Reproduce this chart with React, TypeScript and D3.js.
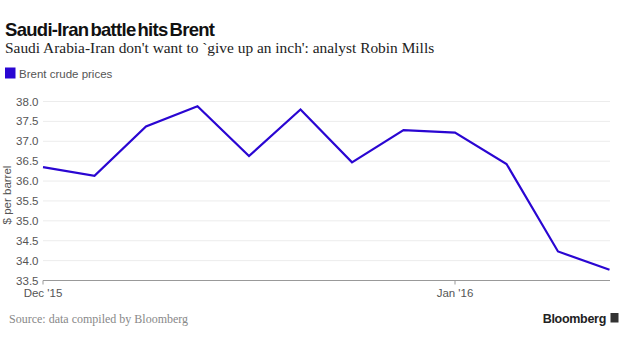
import React from "react";
import * as d3 from "d3";

const prices = [36.35, 36.13, 37.37, 37.88, 36.63, 37.8, 36.47, 37.28, 37.22, 36.43, 34.23, 33.77];
const yTicks = [33.5, 34.0, 34.5, 35.0, 35.5, 36.0, 36.5, 37.0, 37.5, 38.0];
const xTickIndex = [0, 8];
const xTickLabels = ["Dec '15", "Jan '16"];

const W = 629;
const H = 338;
const LINE = "#2a06d2";
const SANS = "'Liberation Sans', Arial, sans-serif";
const SERIF = "'Liberation Serif', 'DejaVu Serif', serif";

export default function App() {
  const x = d3.scaleLinear().domain([0, prices.length - 1]).range([43, 609.5]);
  const y = d3.scaleLinear().domain([33.5, 38.0]).range([280.5, 101.5]);
  const line = d3
    .line<number>()
    .x((_, i) => x(i))
    .y((d) => y(d));

  return (
    <svg
      width={W}
      height={H}
      style={{ position: "absolute", left: 0, top: 0, background: "#fff" }}
    >
      <text x={5} y={36} fontFamily={SANS} fontWeight="bold" fontSize={18.5} letterSpacing={-0.7} wordSpacing={-2.5} fill="#111">
        Saudi-Iran battle hits Brent
      </text>
      <text x={5} y={52.5} fontFamily={SERIF} fontSize={15.4} fill="#222">
        Saudi Arabia-Iran don't want to `give up an inch': analyst Robin Mills
      </text>
      <rect x={5} y={67.5} width={10.5} height={11} fill={LINE} />
      <text x={19} y={77.5} fontFamily={SANS} fontSize={11.5} fill="#555">
        Brent crude prices
      </text>

      {yTicks.map((t) => (
        <g key={t}>
          {t !== 33.5 && (
            <line x1={43} x2={610} y1={y(t)} y2={y(t)} stroke="#ececec" strokeWidth={1} />
          )}
          <text x={38.5} y={y(t) + 4} textAnchor="end" fontFamily={SANS} fontSize={11.5} fill="#555">
            {t.toFixed(1)}
          </text>
        </g>
      ))}
      <text
        transform={`translate(11,195) rotate(-90)`}
        textAnchor="middle"
        fontFamily={SANS}
        fontSize={11.5}
        fill="#555"
      >
        $ per barrel
      </text>

      <line x1={43} x2={610} y1={y(33.5)} y2={y(33.5)} stroke="#999" strokeWidth={1} />
      {xTickIndex.map((idx, k) => (
        <g key={idx}>
          <line x1={x(idx)} x2={x(idx)} y1={y(33.5)} y2={y(33.5) + 4} stroke="#999" strokeWidth={1} />
          <text x={x(idx)} y={y(33.5) + 16} textAnchor="middle" fontFamily={SANS} fontSize={11.5} fill="#555">
            {xTickLabels[k]}
          </text>
        </g>
      ))}

      <path d={line(prices) ?? ""} fill="none" stroke={LINE} strokeWidth={2.2} strokeLinejoin="miter" />

      <text x={9} y={323} fontFamily={SERIF} fontSize={12} fill="#888">
        Source: data compiled by Bloomberg
      </text>
      <text x={606} y={323} textAnchor="end" fontFamily={SANS} fontWeight="bold" fontSize={12.5} letterSpacing={-0.3} fill="#222">
        Bloomberg
      </text>
      <rect x={610.5} y={313} width={8} height={9.5} fill="#333" />
    </svg>
  );
}
